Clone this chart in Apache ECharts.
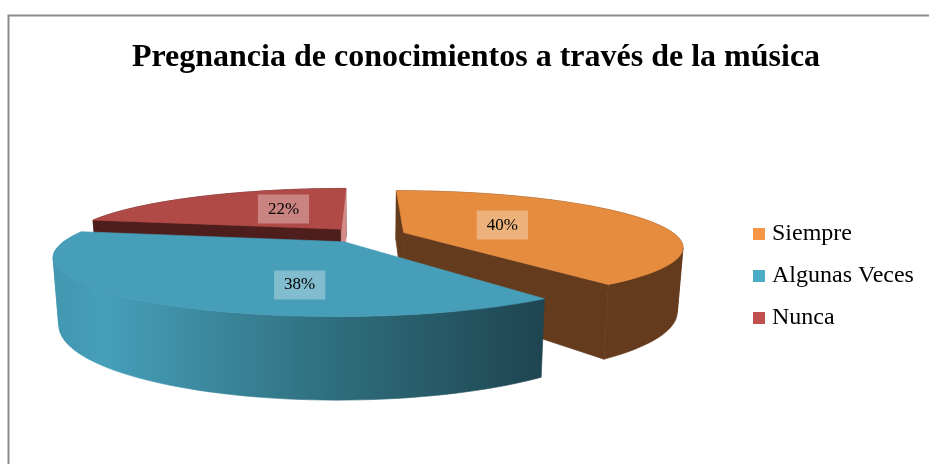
<!DOCTYPE html>
<html>
<head>
<meta charset="utf-8">
<style>html,body{margin:0;padding:0;background:#fff}#c{width:929px;height:464px}</style>
<script src="https://cdn.jsdelivr.net/npm/echarts@6/dist/echarts.min.js"></script>
</head>
<body>
<div id="c"></div>
<script>
const titleText = 'Pregnancia de conocimientos a través de la música';
const categories = ['Siempre', 'Algunas Veces', 'Nunca'];
const percents = [40, 38, 22];

const legendColors = ['#F79646', '#4BACC6', '#C0504D'];
const topColors = ['#E58C3F', '#469EB9', '#B04A47'];
const FONT = '"Liberation Serif","Times New Roman",serif';

// perspective view of the disc
const view = { cx: 366, cy: 235, rx: 272, ry: 53, persp: 0.24, depth: 61, explode: 0.147, baseScale: 0.982 };
const wallFill = [
  '#643B1C',
  { type: 'linear', x: 54, y: 0, x2: 545, y2: 0, global: true, colorStops: [
    { offset: 0, color: '#4296B0' }, { offset: 0.1, color: '#469FBA' },
    { offset: 0.55, color: '#30707F' }, { offset: 1, color: '#1E4450' }] },
  '#4E1E1C'
];
const startFaceFill = ['#643B1C', 'none', '#4E1E1C'];
const endFaceFill = ['#643B1C', 'none', '#D48A88'];
// label anchor relative to slice apex, in disc-radius units
const labelSpot = [[0.385, -0.15], [-0.12, 0.645], [-0.25, -0.44]];

const total = percents.reduce((a, b) => a + b, 0);
const TAU = Math.PI * 2;

function project(X, Z, bottom) {
  const w = 1 - view.persp * Z;
  let x = view.cx + view.rx * X / w;
  let y = view.cy + view.ry * Z / w;
  if (bottom) {
    x = view.cx + (x - view.cx) * view.baseScale;
    y += view.depth / w;
  }
  return [x, y];
}

function sliceItem(idx, value) {
  let before = 0;
  for (let i = 0; i < idx; i++) before += percents[i];
  const a0 = before / total * TAU;
  const a1 = (before + value) / total * TAU;
  const mid = (a0 + a1) / 2;
  const ox = Math.sin(mid) * view.explode;
  const oz = -Math.cos(mid) * view.explode;
  const rim = [];
  const rimLow = [];
  const steps = 72;
  for (let i = 0; i <= steps; i++) {
    const a = a0 + (a1 - a0) * i / steps;
    const X = ox + Math.sin(a), Z = oz - Math.cos(a);
    rim.push(project(X, Z, false));
    rimLow.push(project(X, Z, true));
  }
  const apex = project(ox, oz, false);
  const apexLow = project(ox, oz, true);
  const poly = (points, fill) => ({
    type: 'polygon', shape: { points },
    style: fill === 'none' ? { fill: 'none', stroke: 'none' } : { fill, stroke: fill, lineWidth: 0.6 },
    silent: true
  });
  // split the outer wall where the rim turns back horizontally, so each ribbon is simple
  const cuts = [0];
  for (let i = 1; i < steps; i++) {
    if ((rim[i][0] - rim[i - 1][0]) * (rim[i + 1][0] - rim[i][0]) < 0) cuts.push(i);
  }
  cuts.push(steps);
  const wallParts = [];
  for (let c = 0; c + 1 < cuts.length; c++) {
    const top = rim.slice(cuts[c], cuts[c + 1] + 1);
    const low = rimLow.slice(cuts[c], cuts[c + 1] + 1).reverse();
    wallParts.push(poly(top.concat(low), wallFill[idx]));
  }
  const spot = labelSpot[idx];
  const lp = project(ox + spot[0], oz + spot[1], false);
  return {
    type: 'group',
    children: wallParts.concat([
      poly([apex, rim[0], rimLow[0], apexLow], startFaceFill[idx]),
      poly([apex, rim[steps], rimLow[steps], apexLow], endFaceFill[idx]),
      poly([apex].concat(rim), topColors[idx]),
      {
        type: 'text', x: lp[0], y: lp[1],
        style: {
          text: value + '%', fontFamily: FONT, fontSize: 17, fill: '#000',
          align: 'center', verticalAlign: 'middle',
          backgroundColor: 'rgba(255,255,255,0.32)', padding: [7, 10, 5, 10]
        }
      }
    ])
  };
}

// back slices first, the front slice last
const paintOrder = [2, 0, 1];
const series = paintOrder.map(i => ({
  type: 'custom',
  name: categories[i],
  coordinateSystem: 'none',
  color: legendColors[i],
  itemStyle: { color: legendColors[i] },
  data: [[percents[i]]],
  encode: { value: 0 },
  renderItem: (params, api) => sliceItem(i, api.value(0))
}));

const chart = echarts.init(document.getElementById('c'), null, { renderer: 'canvas' });
chart.setOption({
  animation: false,
  backgroundColor: '#fff',
  title: {
    text: titleText, left: 471, top: 37, textAlign: 'center',
    textStyle: { fontFamily: FONT, fontWeight: 'bold', fontSize: 32, color: '#000' }
  },
  legend: {
    data: categories.map((c, i) => ({ name: c, itemStyle: { color: legendColors[i] } })),
    orient: 'vertical', left: 748, top: 217,
    icon: 'rect', itemWidth: 12, itemHeight: 12, itemGap: 18,
    selectedMode: false,
    textStyle: { fontFamily: FONT, fontSize: 24, color: '#000', padding: [0, 0, 0, 2] }
  },
  graphic: [{
    type: 'rect', silent: true,
    shape: { x: 8.5, y: 15.5, width: 940, height: 470 },
    style: { fill: 'none', stroke: '#8c8c8c', lineWidth: 2 }
  }],
  series
});
</script>
</body>
</html>
